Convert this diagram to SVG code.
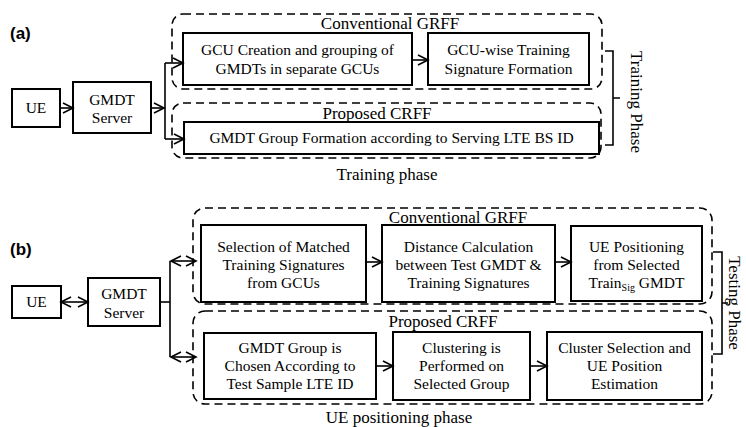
<svg xmlns="http://www.w3.org/2000/svg" width="746" height="427" viewBox="0 0 746 427">
  <style>
    .box { fill: #fff; stroke: #000; stroke-width: 2; }
    .group { fill: none; stroke: #000; stroke-width: 1.6; stroke-dasharray: 8 5; }
    .label { font-family: "Liberation Serif", "Times New Roman", serif; font-size: 15.5px; fill: #000; text-anchor: middle; }
    .title { font-family: "Liberation Serif", "Times New Roman", serif; font-size: 17px; fill: #000; text-anchor: middle; }
    .tag { font-family: "Liberation Sans", Arial, sans-serif; font-size: 17px; font-weight: bold; fill: #000; }
    .edge { fill: none; stroke: #000; stroke-width: 1.6; }
    .sub { font-size: 10px; }
  </style>
  <defs>
    <marker id="head" markerUnits="userSpaceOnUse" markerWidth="14" markerHeight="14" refX="11" refY="6" orient="auto-start-reverse">
      <path d="M1,1 L11,6 L1,11" fill="none" stroke="#000" stroke-width="1.6"/>
    </marker>
  </defs>

  <rect width="746" height="427" fill="#fff"/>

  <!-- (a) training -->
  <text class="tag" x="10" y="39">(a)</text>

  <g id="a-groups">
    <rect class="group" x="172" y="14" width="430" height="75" rx="11"/>
    <text class="title" x="390" y="29">Conventional GRFF</text>
    <rect class="group" x="172" y="103" width="429" height="55" rx="11"/>
    <text class="title" x="377" y="119">Proposed CRFF</text>
  </g>

  <g id="a-ue">
    <rect class="box" x="12" y="89" width="48" height="38"/>
    <text class="label" x="36" y="113">UE</text>
  </g>
  <g id="a-server">
    <rect class="box" x="73" y="82" width="78" height="51"/>
    <text class="label" x="112" y="105">GMDT</text>
    <text class="label" x="112" y="123">Server</text>
  </g>
  <g id="a-gcu-creation">
    <rect class="box" x="183" y="33" width="229" height="52"/>
    <text class="label" x="297.5" y="55">GCU Creation and grouping of</text>
    <text class="label" x="297.5" y="74">GMDTs in separate GCUs</text>
  </g>
  <g id="a-gcu-signature">
    <rect class="box" x="428" y="33" width="161" height="52"/>
    <text class="label" x="508.5" y="55">GCU-wise Training</text>
    <text class="label" x="508.5" y="74">Signature Formation</text>
  </g>
  <g id="a-group-formation">
    <rect class="box" x="184" y="122" width="415" height="32"/>
    <text class="label" x="391.5" y="143">GMDT Group Formation according to Serving LTE BS ID</text>
  </g>

  <g id="a-connectors">
    <line class="edge" x1="60" y1="108" x2="73" y2="108" marker-end="url(#head)"/>
    <line class="edge" x1="151" y1="108" x2="164" y2="108" marker-end="url(#head)"/>
    <line class="edge" x1="165" y1="63" x2="165" y2="139"/>
    <line class="edge" x1="165" y1="63" x2="183" y2="63" marker-end="url(#head)"/>
    <line class="edge" x1="165" y1="139" x2="184" y2="139" marker-end="url(#head)"/>
    <line class="edge" x1="412" y1="60" x2="428" y2="60" marker-end="url(#head)"/>
    <path class="edge" d="M605,51 H613 V145 H605 M613,98 H620"/>
  </g>

  <text class="title" transform="translate(631,102) rotate(90)">Training Phase</text>
  <text class="title" x="387" y="180">Training phase</text>

  <!-- (b) positioning -->
  <text class="tag" x="10" y="255">(b)</text>

  <g id="b-groups">
    <rect class="group" x="193" y="208" width="519" height="96" rx="12"/>
    <text class="title" x="458" y="223">Conventional GRFF</text>
    <rect class="group" x="193" y="311" width="519" height="93" rx="12"/>
    <text class="title" x="443" y="327">Proposed CRFF</text>
  </g>

  <g id="b-ue">
    <rect class="box" x="12" y="286" width="49" height="32"/>
    <text class="label" x="36.5" y="307">UE</text>
  </g>
  <g id="b-server">
    <rect class="box" x="88" y="278" width="72" height="48"/>
    <text class="label" x="124" y="299">GMDT</text>
    <text class="label" x="124" y="318">Server</text>
  </g>
  <g id="b-selection">
    <rect class="box" x="201" y="225" width="165" height="77"/>
    <text class="label" x="283.5" y="252">Selection of Matched</text>
    <text class="label" x="283.5" y="270">Training Signatures</text>
    <text class="label" x="283.5" y="288">from GCUs</text>
  </g>
  <g id="b-distance">
    <rect class="box" x="382" y="225" width="173" height="77"/>
    <text class="label" x="468.5" y="252">Distance Calculation</text>
    <text class="label" x="468.5" y="270">between Test GMDT &amp;</text>
    <text class="label" x="468.5" y="288">Training Signatures</text>
  </g>
  <g id="b-positioning">
    <rect class="box" x="571" y="226" width="131" height="75"/>
    <text class="label" x="636.5" y="252">UE Positioning</text>
    <text class="label" x="636.5" y="270">from Selected</text>
    <text class="label" x="636.5" y="288">Train<tspan class="sub" dy="3">Sig</tspan><tspan dy="-3"> GMDT</tspan></text>
  </g>
  <g id="b-group-choice">
    <rect class="box" x="204" y="333" width="172" height="66"/>
    <text class="label" x="290" y="353">GMDT Group is</text>
    <text class="label" x="290" y="371">Chosen According to</text>
    <text class="label" x="290" y="389">Test Sample LTE ID</text>
  </g>
  <g id="b-clustering">
    <rect class="box" x="393" y="332" width="137" height="68"/>
    <text class="label" x="461.5" y="353">Clustering is</text>
    <text class="label" x="461.5" y="371">Performed on</text>
    <text class="label" x="461.5" y="389">Selected Group</text>
  </g>
  <g id="b-cluster-selection">
    <rect class="box" x="547" y="332" width="155" height="68"/>
    <text class="label" x="624.5" y="353">Cluster Selection and</text>
    <text class="label" x="624.5" y="371">UE Position</text>
    <text class="label" x="624.5" y="389">Estimation</text>
  </g>

  <g id="b-connectors">
    <line class="edge" x1="61" y1="302" x2="88" y2="302" marker-start="url(#head)" marker-end="url(#head)"/>
    <line class="edge" x1="160" y1="302" x2="170" y2="302"/>
    <line class="edge" x1="170" y1="261" x2="170" y2="357"/>
    <line class="edge" x1="171" y1="261" x2="196" y2="261" marker-start="url(#head)" marker-end="url(#head)"/>
    <line class="edge" x1="171" y1="357" x2="196" y2="357" marker-start="url(#head)" marker-end="url(#head)"/>
    <line class="edge" x1="366" y1="262" x2="382" y2="262" marker-end="url(#head)"/>
    <line class="edge" x1="555" y1="262" x2="571" y2="262" marker-end="url(#head)"/>
    <line class="edge" x1="376" y1="366" x2="393" y2="366" marker-end="url(#head)"/>
    <line class="edge" x1="530" y1="366" x2="547" y2="366" marker-end="url(#head)"/>
    <path class="edge" d="M713,252 H722 V354 H713 M722,303 H728"/>
  </g>

  <text class="title" transform="translate(729,303) rotate(90)">Testing Phase</text>
  <text class="title" x="399" y="423">UE positioning phase</text>
</svg>
